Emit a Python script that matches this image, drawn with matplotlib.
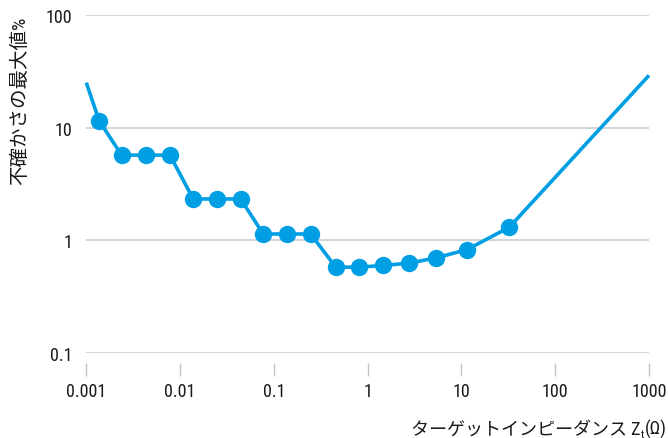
import matplotlib
matplotlib.use("Agg")
import matplotlib.pyplot as plt
from matplotlib.ticker import FixedLocator, NullLocator

plt.rcParams['font.family'] = ['Roboto Condensed', 'Noto Sans CJK JP', 'DejaVu Sans']

# Target impedance (ohm) and maximum uncertainty (%)
impedance = [0.001, 0.00137, 0.00238, 0.00432, 0.0078, 0.0138, 0.0245, 0.0443,
             0.077, 0.139, 0.247, 0.456, 0.807, 1.47, 2.78, 5.35, 11.5, 32.4, 1000]
uncertainty = [25, 11.5, 5.7, 5.7, 5.7, 2.33, 2.33, 2.33,
               1.14, 1.14, 1.14, 0.58, 0.58, 0.60, 0.63, 0.70, 0.83, 1.31, 29]

x_ticks = [0.001, 0.01, 0.1, 1, 10, 100, 1000]
x_tick_labels = ['0.001', '0.01', '0.1', '1', '10', '100', '1000']
y_ticks = [0.1, 1, 10, 100]
y_tick_labels = ['0.1', '1', '10', '100']

W, H = 668, 439
fig = plt.figure(figsize=(W / 100, H / 100), dpi=100)
left, right, top, bottom = 86.3, 649.0, 15.7, 354.3
ax = fig.add_axes([left / W, 1 - bottom / H, (right - left) / W, (bottom - top) / H])

ax.set_xscale('log')
ax.set_yscale('log')
ax.set_xlim(0.001, 1000)
ax.set_ylim(0.1, 100)

blue = '#009fe3'
ax.plot(impedance, uncertainty, color=blue, lw=2.6, marker='o', ms=11.5,
        markevery=list(range(1, len(impedance) - 1)), solid_capstyle='butt',
        clip_on=False, zorder=3)

ax.yaxis.set_major_locator(FixedLocator(y_ticks))
ax.yaxis.set_minor_locator(NullLocator())
ax.set_yticklabels(y_tick_labels)
ax.xaxis.set_major_locator(FixedLocator(x_ticks))
ax.xaxis.set_minor_locator(NullLocator())
ax.set_xticklabels(x_tick_labels)

ax.grid(axis='y', color='#c6cacd', lw=1.1)
ax.set_axisbelow(True)
for s in ax.spines.values():
    s.set_visible(False)
ax.spines['bottom'].set_position(('outward', 7))

ax.tick_params(axis='y', length=0, pad=10, labelsize=13, labelcolor='#1a1a1a')
ax.tick_params(axis='x', length=9.5, width=1, color='#c0c4c7', pad=4.5,
               labelsize=13, labelcolor='#1a1a1a')

text_color = '#1a1a1a'
fig.text(20 / W, 1 - 101 / H, '不確かさの最大値%', rotation=90, ha='center', va='center',
         fontsize=14, color=text_color)

# x-axis title built from pieces so that the subscript t sits beside Z
renderer = fig.canvas.get_renderer()
baseline = 1 - 435 / H
part_unit = fig.text(667 / W, baseline, '(Ω)', ha='right', va='baseline',
                     fontsize=13, color=text_color)
x_unit = part_unit.get_window_extent(renderer).x0
part_sub = fig.text((x_unit - 0.5) / W, baseline - 3 / H, 't', ha='right', va='baseline',
                    fontsize=8, color=text_color)
x_sub = part_sub.get_window_extent(renderer).x0
fig.text((x_sub - 0.5) / W, baseline, 'ターゲットインピーダンス Z', ha='right', va='baseline',
         fontsize=13, color=text_color)

fig.savefig('out.png', dpi=100)
